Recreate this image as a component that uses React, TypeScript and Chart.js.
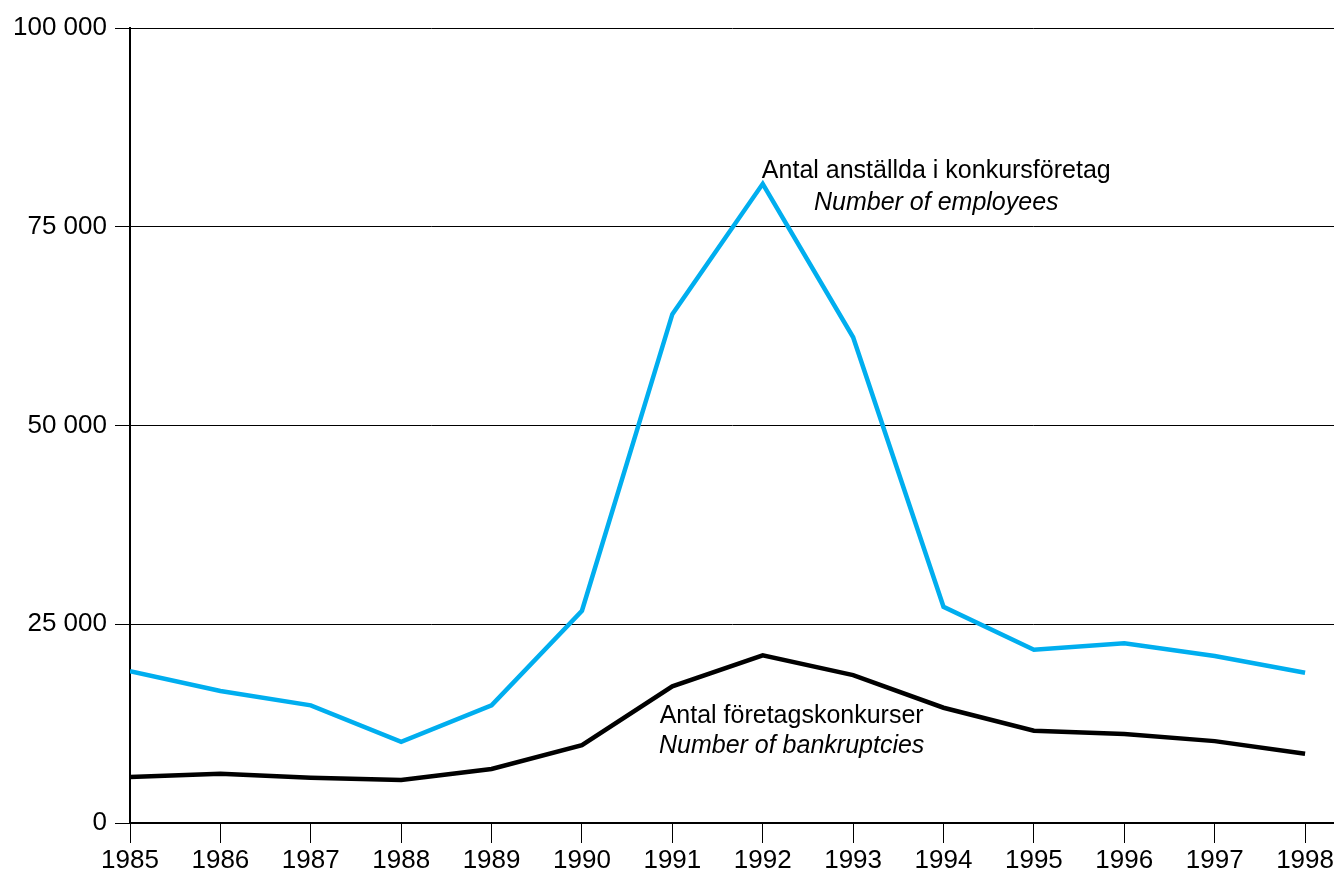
import React, { useEffect, useRef } from "react";
import { Chart, registerables } from "chart.js";

Chart.register(...registerables);

const years = [1985, 1986, 1987, 1988, 1989, 1990, 1991, 1992, 1993, 1994, 1995, 1996, 1997, 1998];
const employees = [19100, 16600, 14800, 10200, 14800, 26700, 64000, 80400, 61100, 27200, 21800, 22600, 21000, 18900];
const bankruptcies = [5800, 6200, 5700, 5400, 6800, 9800, 17200, 21100, 18600, 14500, 11600, 11200, 10300, 8700];
const yTicks = [0, 25000, 50000, 75000, 100000];

const labelEmployees = ["Antal anställda i konkursföretag", "Number of employees"];
const labelBankruptcies = ["Antal företagskonkurser", "Number of bankruptcies"];

const FONT = "'Liberation Sans', Arial, sans-serif";

function fmtY(v: number): string {
  if (v === 0) return "0";
  const k = Math.round(v / 1000);
  return `${k} 000`;
}

const annotationPlugin = {
  id: "textAnnotations",
  afterDatasetsDraw(chart: any) {
    const { ctx, scales } = chart;
    const x = scales.x;
    const y = scales.y;
    const items = [
      { lines: labelEmployees, xv: 1993.92, yv: 81100, gap: 32 },
      { lines: labelBankruptcies, xv: 1992.32, yv: 12600, gap: 30 },
    ];
    ctx.save();
    ctx.fillStyle = "#000";
    ctx.textAlign = "center";
    ctx.textBaseline = "alphabetic";
    for (const it of items) {
      const px = x.getPixelForValue(it.xv);
      const py = y.getPixelForValue(it.yv);
      ctx.font = `25px ${FONT}`;
      ctx.fillText(it.lines[0], px, py);
      ctx.font = `italic 25px ${FONT}`;
      ctx.fillText(it.lines[1], px, py + it.gap);
    }
    ctx.restore();
  },
};

export default function App() {
  const ref = useRef<HTMLCanvasElement | null>(null);

  useEffect(() => {
    document.body.style.margin = "0";
    if (!ref.current) return;
    const chart = new Chart(ref.current, {
      type: "line",
      data: {
        datasets: [
          {
            label: "Number of employees",
            data: years.map((yr, i) => ({ x: yr, y: employees[i] })),
            borderColor: "#00AEEF",
            borderWidth: 4.5,
            pointRadius: 0,
            tension: 0,
            fill: false,
          },
          {
            label: "Number of bankruptcies",
            data: years.map((yr, i) => ({ x: yr, y: bankruptcies[i] })),
            borderColor: "#000000",
            borderWidth: 4.5,
            pointRadius: 0,
            tension: 0,
            fill: false,
          },
        ],
      },
      options: {
        animation: false,
        responsive: true,
        maintainAspectRatio: false,
        layout: { padding: { top: 28, left: 0, right: 0, bottom: 0 } },
        plugins: {
          legend: { display: false },
          tooltip: { enabled: false },
        },
        scales: {
          x: {
            type: "linear",
            min: 1985,
            max: 1998.32,
            afterBuildTicks: (scale: any) => {
              scale.ticks = years.map((v) => ({ value: v }));
            },
            afterFit: (scale: any) => {
              scale.height = 57;
              scale.paddingLeft = 0;
              scale.paddingRight = 0;
            },
            grid: {
              drawOnChartArea: false,
              drawTicks: true,
              tickLength: 20,
              color: "#000",
              lineWidth: 1,
            },
            border: { display: true, color: "#000", width: 2 },
            ticks: {
              color: "#000",
              font: { family: FONT, size: 26 },
              padding: 2,
              maxRotation: 0,
              autoSkip: false,
              callback: (v: any) => String(v),
            },
          },
          y: {
            type: "linear",
            min: 0,
            max: 100000,
            afterBuildTicks: (scale: any) => {
              scale.ticks = yTicks.map((v) => ({ value: v }));
            },
            afterFit: (scale: any) => {
              scale.width = 130;
            },
            grid: {
              drawOnChartArea: true,
              drawTicks: true,
              tickLength: 15,
              color: "#000",
              lineWidth: 1,
            },
            border: { display: true, color: "#000", width: 2 },
            ticks: {
              color: "#000",
              font: { family: FONT, size: 26 },
              padding: 8,
              callback: (v: any) => fmtY(Number(v)),
            },
          },
        },
      },
      plugins: [annotationPlugin],
    });
    return () => chart.destroy();
  }, []);

  return (
    <div style={{ width: "1334px", height: "880px", position: "relative" }}>
      <canvas ref={ref} />
    </div>
  );
}
